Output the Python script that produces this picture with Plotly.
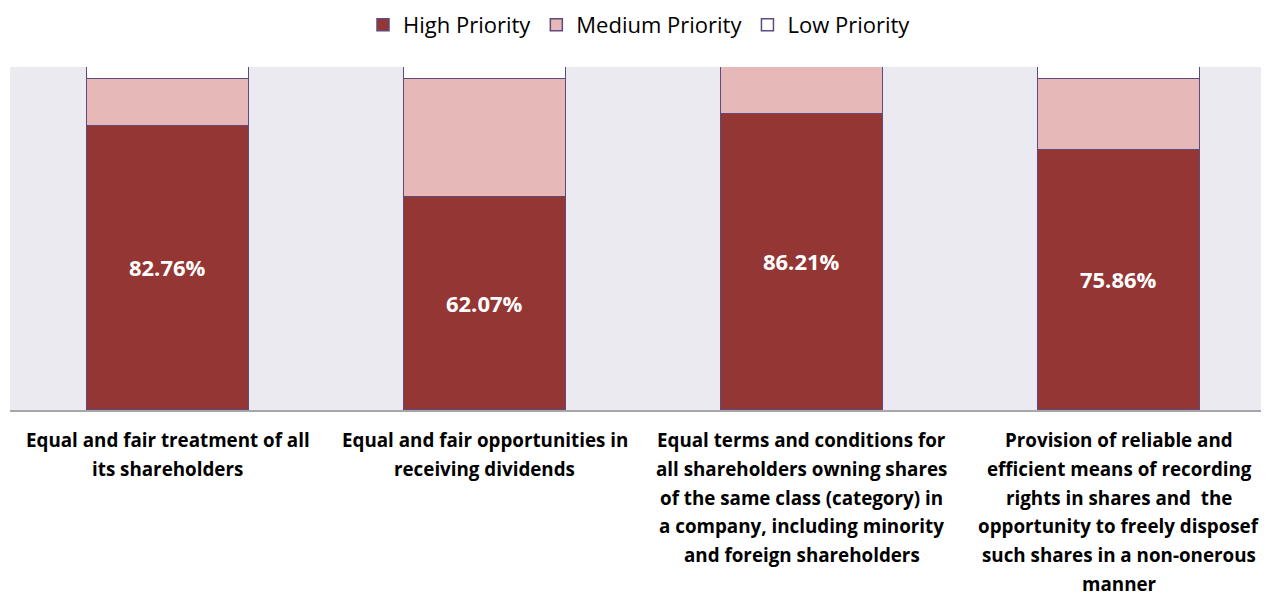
import plotly.graph_objects as go

categories = [
    ["Equal and fair treatment of all", "its shareholders"],
    ["Equal and fair opportunities in", "receiving dividends"],
    ["Equal terms and conditions for", "all shareholders owning shares",
     "of the same class (category) in", "a company, including minority",
     "and foreign shareholders"],
    ["Provision of reliable and", "efficient means of recording",
     "rights in shares and  the", "opportunity to freely disposef",
     "such shares in a non-onerous", "manner"],
]
high = [82.76, 62.07, 86.21, 75.86]
medium = [13.79, 34.48, 13.79, 20.69]
low = [3.45, 3.45, 0.0, 3.45]

x = list(range(len(categories)))
outline = "#5E4A7E"
font = "Open Sans"

W, H = 1261, 588
L, T, B = 2, 59, 186

fig = go.Figure()
fig.add_trace(go.Bar(
    x=x, y=high, name="High Priority", marker=dict(color="#943634", line=dict(color=outline, width=1.5)),
    width=0.511, text=[f"{v:.2f}%" for v in high], textposition="inside", insidetextanchor="middle",
    textfont=dict(color="white", size=22, family=font, weight="bold"), hoverinfo="skip"))
fig.add_trace(go.Bar(
    x=x, y=medium, name="Medium Priority", marker=dict(color="#E6B9B8", line=dict(color=outline, width=1.5)),
    width=0.511, hoverinfo="skip"))
fig.add_trace(go.Bar(
    x=x, y=low, name="Low Priority", marker=dict(color="white", line=dict(color=outline, width=1.5)),
    width=0.511, hoverinfo="skip"))

plot_h = H - T - B
annotations = []
for i, lines in enumerate(categories):
    for j, line in enumerate(lines):
        ypx = 432 + 28.8 * j
        annotations.append(dict(
            x=i, xref="x", y=1 - (ypx - T) / plot_h, yref="paper", text=line, showarrow=False,
            font=dict(family=font, size=18.8, color="black", weight="bold"),
            xanchor="center", yanchor="middle"))

fig.update_layout(
    barmode="stack",
    width=W, height=H,
    margin=dict(l=L, r=0, t=T, b=B),
    paper_bgcolor="white", plot_bgcolor="#ECEAF1",
    showlegend=True,
    legend=dict(orientation="h", x=0.5, xanchor="center", y=1 - 17 / H, yref="container", yanchor="middle",
                font=dict(family=font, size=22, color="black"), traceorder="normal",
                itemwidth=30, bgcolor="rgba(0,0,0,0)"),
    xaxis=dict(range=[-0.4984, 3.4732], showticklabels=False, showgrid=False, zeroline=False,
               showline=True, linecolor="#A6A6A6", linewidth=1.5, fixedrange=True),
    yaxis=dict(range=[0, 100], showticklabels=False, showgrid=False, zeroline=False, fixedrange=True),
    bargap=0,
    annotations=annotations,
)

fig.write_html("out.html")
